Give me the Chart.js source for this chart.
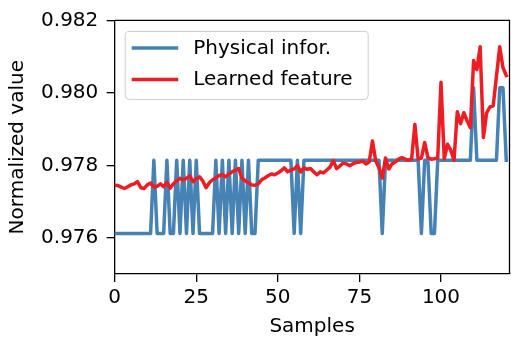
<!DOCTYPE html>
<html>
<head>
<meta charset="utf-8">
<script src="https://cdn.jsdelivr.net/npm/chart.js@4/dist/chart.umd.min.js"></script>
<style>
  html, body { margin: 0; padding: 0; background: #fff; }
  #wrap { width: 511px; height: 343px; }
</style>
</head>
<body>
<div id="wrap"><canvas id="c" width="511" height="343"></canvas></div>
<script>
// Sample index along the x axis
const samples = [
  0, 1, 2, 3, 4, 5, 6, 7, 8, 9,
  10, 11, 12, 13, 14, 15, 16, 17, 18, 19,
  20, 21, 22, 23, 24, 25, 26, 27, 28, 29,
  30, 31, 32, 33, 34, 35, 36, 37, 38, 39,
  40, 41, 42, 43, 44, 45, 46, 47, 48, 49,
  50, 51, 52, 53, 54, 55, 56, 57, 58, 59,
  60, 61, 62, 63, 64, 65, 66, 67, 68, 69,
  70, 71, 72, 73, 74, 75, 76, 77, 78, 79,
  80, 81, 82, 83, 84, 85, 86, 87, 88, 89,
  90, 91, 92, 93, 94, 95, 96, 97, 98, 99,
  100, 101, 102, 103, 104, 105, 106, 107, 108, 109,
  110, 111, 112, 113, 114, 115, 116, 117, 118, 119,
  120
];

// Physical information (quantised levels)
const physical = [
  0.97612, 0.97612, 0.97612, 0.97612, 0.97612, 0.97612, 0.97612, 0.97612, 0.97612, 0.97612,
  0.97612, 0.97612, 0.97814, 0.97612, 0.97612, 0.97612, 0.97814, 0.97612, 0.97612, 0.97814,
  0.97612, 0.97814, 0.97612, 0.97814, 0.97612, 0.97814, 0.97612, 0.97612, 0.97612, 0.97612,
  0.97612, 0.97814, 0.97612, 0.97814, 0.97612, 0.97814, 0.97612, 0.97814, 0.97612, 0.97814,
  0.97612, 0.97814, 0.97612, 0.97612, 0.97814, 0.97814, 0.97814, 0.97814, 0.97814, 0.97814,
  0.97814, 0.97814, 0.97814, 0.97814, 0.97814, 0.97612, 0.97814, 0.97612, 0.97814, 0.97814,
  0.97814, 0.97814, 0.97814, 0.97814, 0.97814, 0.97814, 0.97814, 0.97814, 0.97814, 0.97814,
  0.97814, 0.97814, 0.97814, 0.97814, 0.97814, 0.97814, 0.97814, 0.97814, 0.97814, 0.97814,
  0.97814, 0.97814, 0.97612, 0.97814, 0.97814, 0.97814, 0.97814, 0.97814, 0.97814, 0.97814,
  0.97814, 0.97814, 0.97814, 0.97814, 0.97612, 0.97814, 0.97814, 0.97612, 0.97612, 0.97814,
  0.97814, 0.97814, 0.97814, 0.97814, 0.97814, 0.97814, 0.97814, 0.97814, 0.97814, 0.97814,
  0.98014, 0.97814, 0.97814, 0.97814, 0.97814, 0.97814, 0.97814, 0.97814, 0.98014, 0.98014,
  0.97814
];

// Learned feature
const learned = [
  0.97745, 0.97744, 0.97740, 0.97736, 0.97741, 0.97746, 0.97749, 0.97755, 0.97738, 0.97736,
  0.97746, 0.97751, 0.97740, 0.97742, 0.97749, 0.97741, 0.97753, 0.97737, 0.97749, 0.97757,
  0.97764, 0.97760, 0.97764, 0.97771, 0.97755, 0.97763, 0.97768, 0.97757, 0.97738, 0.97752,
  0.97760, 0.97765, 0.97772, 0.97774, 0.97768, 0.97776, 0.97782, 0.97787, 0.97791, 0.97765,
  0.97757, 0.97752, 0.97746, 0.97745, 0.97749, 0.97760, 0.97765, 0.97771, 0.97776, 0.97774,
  0.97779, 0.97785, 0.97793, 0.97782, 0.97787, 0.97790, 0.97799, 0.97782, 0.97793, 0.97789,
  0.97791, 0.97782, 0.97774, 0.97782, 0.97779, 0.97787, 0.97795, 0.97813, 0.97791, 0.97798,
  0.97806, 0.97804, 0.97799, 0.97804, 0.97808, 0.97809, 0.97812, 0.97804, 0.97809, 0.97867,
  0.97812, 0.97793, 0.97765, 0.97820, 0.97790, 0.97804, 0.97809, 0.97817, 0.97821, 0.97817,
  0.97814, 0.97817, 0.97913, 0.97817, 0.97820, 0.97863, 0.97821, 0.97817, 0.97818, 0.97820,
  0.98029, 0.97818, 0.97858, 0.97842, 0.97814, 0.97948, 0.97915, 0.97945, 0.97923, 0.97904,
  0.98089, 0.98064, 0.98127, 0.97877, 0.97945, 0.97961, 0.97964, 0.98045, 0.98127, 0.98070,
  0.98048
];

const xTicks = [0, 25, 50, 75, 100];
const yTicks = [0.976, 0.978, 0.980, 0.982];
const seriesNames = ['Physical infor.', 'Learned feature'];
const xTitle = 'Samples';
const yTitle = 'Normalized value';

const FONT = 'DejaVu Sans';
const BLUE = '#4682B4';
const RED = '#EE1D24';

Chart.defaults.font.family = FONT;
Chart.defaults.color = '#000';

// Top and right spines, drawn over the lines like the axes
const framePlugin = {
  id: 'frame',
  afterDatasetsDraw(chart) {
    const { ctx, chartArea: a } = chart;
    ctx.save();
    ctx.strokeStyle = '#000';
    ctx.lineWidth = 1.3;
    ctx.beginPath();
    ctx.moveTo(a.left, a.top);
    ctx.lineTo(a.right, a.top);
    ctx.lineTo(a.right, a.bottom);
    ctx.stroke();
    ctx.restore();
  }
};

// Boxed legend in the upper-left corner of the plot area
const boxLegend = {
  id: 'boxLegend',
  afterDatasetsDraw(chart) {
    const { ctx, chartArea: a } = chart;
    const x = a.left + 10.5, y = a.top + 11, w = 243, h = 68, r = 4;
    ctx.save();
    ctx.beginPath();
    ctx.roundRect(x, y, w, h, r);
    ctx.fillStyle = 'rgba(255,255,255,0.8)';
    ctx.fill();
    ctx.strokeStyle = '#cccccc';
    ctx.lineWidth = 1;
    ctx.stroke();
    const rows = [y + 16.5, y + 48];
    chart.data.datasets.forEach((ds, i) => {
      const ly = rows[ds.legendRow];
      ctx.beginPath();
      ctx.moveTo(x + 6.5, ly);
      ctx.lineTo(x + 53, ly);
      ctx.strokeStyle = ds.borderColor;
      ctx.lineWidth = ds.borderWidth;
      ctx.lineCap = 'butt';
      ctx.stroke();
      ctx.fillStyle = '#000';
      ctx.font = '20px "' + FONT + '"';
      ctx.textAlign = 'left';
      ctx.textBaseline = 'middle';
      ctx.fillText(ds.label, x + 68, ly + 0.5);
    });
    ctx.restore();
  }
};

new Chart(document.getElementById('c'), {
  type: 'line',
  data: {
    labels: samples,
    datasets: [
      {
        label: seriesNames[0],
        data: physical,
        borderColor: BLUE,
        borderWidth: 3.5,
        pointRadius: 0,
        tension: 0,
        borderJoinStyle: 'round',
        borderCapStyle: 'square',
        order: 1,
        legendRow: 0
      },
      {
        label: seriesNames[1],
        data: learned,
        borderColor: RED,
        borderWidth: 3.5,
        pointRadius: 0,
        tension: 0,
        borderJoinStyle: 'round',
        borderCapStyle: 'square',
        order: 0,
        legendRow: 1
      }
    ]
  },
  options: {
    responsive: false,
    animation: false,
    devicePixelRatio: 1,
    layout: { padding: { top: 16, right: 1.5, left: 0, bottom: 0 } },
    plugins: {
      legend: { display: false },
      tooltip: { enabled: false }
    },
    scales: {
      x: {
        type: 'linear',
        min: 0,
        max: 121,
        afterBuildTicks: (s) => { s.ticks = xTicks.map(v => ({ value: v })); },
        afterFit: (s) => { s.height = 69; },
        ticks: {
          font: { size: 20 },
          color: '#000',
          padding: 4,
          maxRotation: 0,
          callback: (v) => String(v)
        },
        grid: {
          drawOnChartArea: false,
          drawTicks: true,
          tickLength: 8,
          color: '#000',
          lineWidth: 1.3
        },
        border: { display: true, color: '#000', width: 1.3 },
        title: {
          display: true,
          text: xTitle,
          font: { size: 20 },
          color: '#000',
          padding: { top: 0, bottom: 4 }
        }
      },
      y: {
        type: 'linear',
        min: 0.975,
        max: 0.982,
        afterBuildTicks: (s) => { s.ticks = yTicks.map(v => ({ value: v })); },
        afterFit: (s) => { s.width = 114.7; },
        ticks: {
          font: { size: 20 },
          color: '#000',
          padding: 8.4,
          callback: (v) => Number(v).toFixed(3)
        },
        grid: {
          drawOnChartArea: false,
          drawTicks: true,
          tickLength: 8,
          color: '#000',
          lineWidth: 1.3
        },
        border: { display: true, color: '#000', width: 1.3 },
        title: {
          display: true,
          text: yTitle,
          font: { size: 20 },
          color: '#000',
          padding: { top: 6, bottom: 0 }
        }
      }
    }
  },
  plugins: [framePlugin, boxLegend]
});
</script>
</body>
</html>
